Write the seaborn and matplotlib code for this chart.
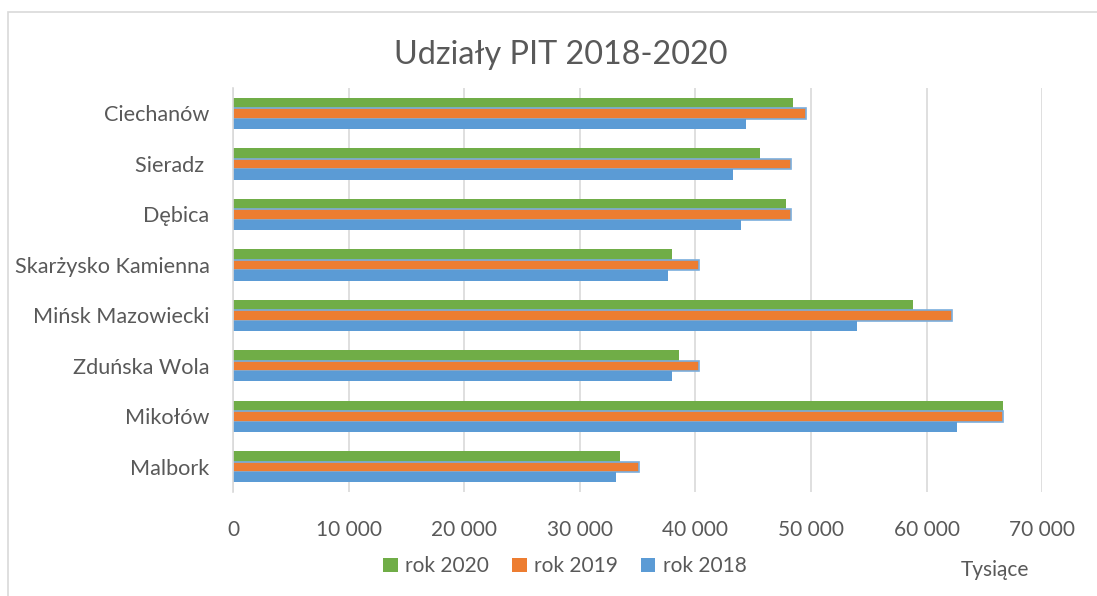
import matplotlib
matplotlib.use("Agg")
import matplotlib.pyplot as plt
import seaborn as sns
import pandas as pd
from matplotlib.patches import Rectangle
from matplotlib.ticker import FuncFormatter

# dane (w tysiącach zł)
miasta = ['Ciechanów', 'Sieradz ', 'Dębica', 'Skarżysko Kamienna',
          'Mińsk Mazowiecki', 'Zduńska Wola', 'Mikołów', 'Malbork']
rok_2020 = [48430, 45600, 47820, 37960, 58810, 38560, 66570, 33490]
rok_2019 = [49550, 48250, 48280, 40290, 62190, 40290, 66580, 35160]
rok_2018 = [44360, 43240, 43960, 37610, 53970, 37960, 62620, 33110]
serie = ['rok 2020', 'rok 2019', 'rok 2018']
kolory = ['#70AD47', '#ED7D31', '#5B9BD5']

df = pd.DataFrame({
    'Miasto': miasta * 3,
    'Rok': [serie[0]] * 8 + [serie[1]] * 8 + [serie[2]] * 8,
    'Wartosc': rok_2020 + rok_2019 + rok_2018,
})

sns.set_style('white')
plt.rcParams['font.family'] = ['Lato', 'DejaVu Sans']
szary = '#595959'

fig = plt.figure(figsize=(10.97, 5.96), dpi=100)
ax = fig.add_axes([0.2124, 0.1745, 0.7376, 0.6775])

sns.barplot(data=df, y='Miasto', x='Wartosc', hue='Rok', hue_order=serie,
            palette=kolory, order=miasta, orient='y', width=0.62,
            saturation=1, linewidth=0, ax=ax)

# słupki 2019 mają niebieską obwódkę jak w oryginale
for p in ax.containers[1]:
    p.set_edgecolor('#7AAEDD')
    p.set_linewidth(1.2)

ax.set_xlim(0, 70000)
ax.set_xticks(range(0, 70001, 10000))
ax.xaxis.set_major_formatter(FuncFormatter(lambda v, _: f'{int(v):,}'.replace(',', ' ')))
ax.grid(axis='x', color='#D9D9D9', linewidth=1.2)
ax.set_axisbelow(True)
for s in ['top', 'right', 'bottom']:
    ax.spines[s].set_visible(False)
ax.spines['left'].set_color('#D9D9D9')
ax.spines['left'].set_linewidth(1.2)
ax.tick_params(axis='x', colors=szary, labelsize=15, length=0, pad=20)
ax.tick_params(axis='y', colors=szary, labelsize=15.6, length=0, pad=17)
ax.set_xlabel('')
ax.set_ylabel('')

fig.text(0.511, 0.908, 'Udziały PIT 2018-2020', ha='center', va='center',
         fontsize=23.3, color=szary)
fig.text(0.907, 0.043, 'Tysiące', ha='center', va='center', fontsize=15, color=szary)

leg = ax.legend(loc='center', bbox_to_anchor=(0.515, 0.05), bbox_transform=fig.transFigure,
                ncol=3, frameon=False, fontsize=15, labelcolor=szary,
                handlelength=0.7, handleheight=0.7, handletextpad=0.35, columnspacing=1.1)
for h in leg.legend_handles:
    h.set_width(10.5)
    h.set_height(10.5)
leg.legend_handles[1].set_edgecolor('#7AAEDD')

# ramka wykresu
fig.patches.append(Rectangle((8 / 1097, -0.1), 1.2, 1.1 - 12 / 596,
                             transform=fig.transFigure, fill=False,
                             edgecolor='#D9D9D9', linewidth=1.2))

fig.savefig('out.png', dpi=100)
